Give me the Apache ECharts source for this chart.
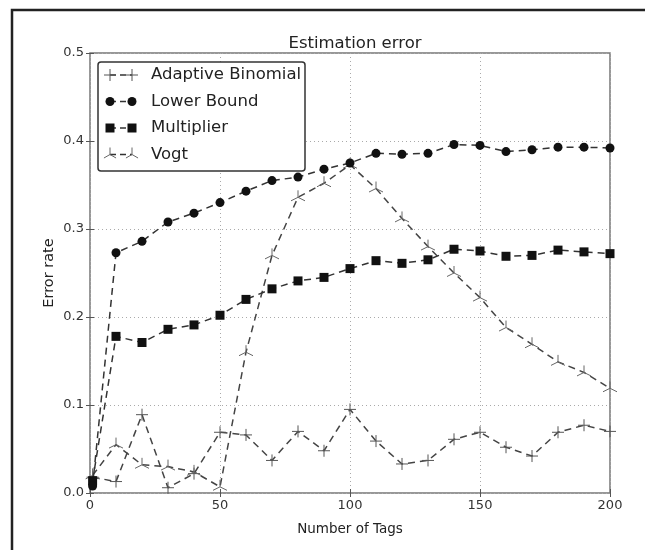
<!DOCTYPE html>
<html>
<head>
<meta charset="utf-8">
<script src="https://cdn.jsdelivr.net/npm/echarts@6/dist/echarts.min.js"></script>
<style>
  html, body { margin: 0; padding: 0; background: #fff; }
  #chart { width: 645px; height: 550px; }
</style>
</head>
<body>
<div id="chart"></div>
<script>
const tags = [1, 10, 20, 30, 40, 50, 60, 70, 80, 90, 100, 110, 120, 130, 140, 150, 160, 170, 180, 190, 200]
const adaptiveBinomial = [0.018, 0.013, 0.089, 0.006, 0.022, 0.069, 0.066, 0.037, 0.070, 0.048, 0.095, 0.059, 0.033, 0.037, 0.061, 0.069, 0.052, 0.042, 0.069, 0.077, 0.070]
const lowerBound = [0.008, 0.273, 0.286, 0.308, 0.318, 0.330, 0.343, 0.355, 0.359, 0.368, 0.375, 0.386, 0.385, 0.386, 0.396, 0.395, 0.388, 0.390, 0.393, 0.393, 0.392]
const multiplier = [0.014, 0.178, 0.171, 0.186, 0.191, 0.202, 0.220, 0.232, 0.241, 0.245, 0.255, 0.264, 0.261, 0.265, 0.277, 0.275, 0.269, 0.270, 0.276, 0.274, 0.272]
const vogt = [0.020, 0.055, 0.032, 0.030, 0.024, 0.007, 0.160, 0.270, 0.336, 0.352, 0.373, 0.346, 0.312, 0.280, 0.250, 0.222, 0.188, 0.169, 0.149, 0.137, 0.119]

// matplotlib style markers: '+' and tri_up
const plusPath = 'path://M0,-1L0,1M-1,0L1,0'
const triPath = 'path://M0,-1L0,0M0,0L-0.866,0.5M0,0L0.866,0.5M0,1L0,1M-0.866,-1L-0.866,-1'
const font = 'DejaVu Sans'
const dash = [7, 5]

const pairs = (ys) => tags.map((x, i) => [x, ys[i]])

const legendItems = [
  { name: 'Adaptive Binomial', kind: 'plus' },
  { name: 'Lower Bound', kind: 'circle' },
  { name: 'Multiplier', kind: 'square' },
  { name: 'Vogt', kind: 'tri' }
]

const seg = (x1, y1, x2, y2, color) => ({
  type: 'line', shape: { x1, y1, x2, y2 }, style: { stroke: color, lineWidth: 1 }, z: 20
})

const legendMarker = (kind, cx, cy) => {
  if (kind === 'circle') {
    return [{ type: 'circle', shape: { cx, cy, r: 4.5 }, style: { fill: '#111' }, z: 20 }]
  }
  if (kind === 'square') {
    return [{ type: 'rect', shape: { x: cx - 4.5, y: cy - 4.5, width: 9, height: 9 }, style: { fill: '#111' }, z: 20 }]
  }
  if (kind === 'plus') {
    return [seg(cx - 6, cy, cx + 6, cy, '#555'), seg(cx, cy - 6, cx, cy + 6, '#555')]
  }
  const r = 7
  return [
    seg(cx, cy, cx, cy - r, '#666'),
    seg(cx, cy, cx - r * 0.866, cy + r * 0.5, '#666'),
    seg(cx, cy, cx + r * 0.866, cy + r * 0.5, '#666')
  ]
}

const legendGraphics = [
  { type: 'rect', shape: { x: 98, y: 62, width: 207, height: 109, r: 3 },
    style: { fill: '#fff', stroke: '#333', lineWidth: 1.5 }, z: 15 }
]
legendItems.forEach((it, i) => {
  const cy = 75 + i * 26.5
  legendGraphics.push({ type: 'line', shape: { x1: 110, y1: cy, x2: 132, y2: cy },
    style: { stroke: '#333', lineWidth: 1.5, lineDash: [6, 4] }, z: 18 })
  legendGraphics.push(...legendMarker(it.kind, 110, cy))
  legendGraphics.push(...legendMarker(it.kind, 132, cy))
  legendGraphics.push({ type: 'text', x: 151, y: cy,
    style: { text: it.name, font: '16.5px "DejaVu Sans"', fill: '#222', verticalAlign: 'middle' }, z: 20 })
})

const chart = echarts.init(document.getElementById('chart'))
chart.setOption({
  animation: false,
  backgroundColor: '#fff',
  title: {
    text: 'Estimation error',
    left: 350, top: 30, textAlign: 'center',
    textStyle: { fontFamily: font, fontSize: 16.5, fontWeight: 'normal', color: '#222' }
  },
  grid: { left: 90, right: 35, top: 53, bottom: 57, show: true, borderColor: '#777', borderWidth: 1.5, backgroundColor: 'transparent' },
  xAxis: [{
    type: 'value', min: 0, max: 200, interval: 50,
    name: 'Number of Tags', nameLocation: 'middle', nameGap: 29,
    nameTextStyle: { fontFamily: font, fontSize: 13.5, color: '#222' },
    axisLine: { show: false },
    axisTick: { show: true, inside: true, length: 4, lineStyle: { color: '#555' } },
    axisLabel: { fontFamily: font, fontSize: 13, color: '#333', margin: 6 },
    splitLine: { show: true, lineStyle: { color: '#aaa', type: [1, 3], width: 1 } }
  }, {
    type: 'value', min: 0, max: 200, interval: 50, position: 'top',
    axisLine: { show: false },
    axisTick: { show: true, inside: true, length: 4, lineStyle: { color: '#555' } },
    axisLabel: { show: false }, splitLine: { show: false }
  }],
  yAxis: [{
    type: 'value', min: 0, max: 0.5, interval: 0.1,
    name: 'Error rate', nameLocation: 'middle', nameGap: 33, nameMoveOverlap: false,
    nameTextStyle: { fontFamily: font, fontSize: 14.5, color: '#222' },
    axisLine: { show: false },
    axisTick: { show: true, inside: true, length: 4, lineStyle: { color: '#555' } },
    axisLabel: { fontFamily: font, fontSize: 13, color: '#333', margin: 6, formatter: (v) => v.toFixed(1) },
    splitLine: { show: true, lineStyle: { color: '#aaa', type: [1, 3], width: 1 } }
  }, {
    type: 'value', min: 0, max: 0.5, interval: 0.1, position: 'right',
    axisLine: { show: false },
    axisTick: { show: true, inside: true, length: 4, lineStyle: { color: '#555' } },
    axisLabel: { show: false }, splitLine: { show: false }
  }],
  series: [
    {
      name: 'Adaptive Binomial', type: 'line', data: pairs(adaptiveBinomial),
      symbol: plusPath, symbolSize: 12, showAllSymbol: true,
      lineStyle: { color: '#444', width: 1.5, type: dash },
      itemStyle: { color: 'rgba(0,0,0,0)', borderColor: '#555', borderWidth: 1 },
      z: 3
    },
    {
      name: 'Vogt', type: 'line', data: pairs(vogt),
      symbol: triPath, symbolSize: 14, showAllSymbol: true,
      lineStyle: { color: '#444', width: 1.5, type: dash },
      itemStyle: { color: 'rgba(0,0,0,0)', borderColor: '#666', borderWidth: 1 },
      z: 3
    },
    {
      name: 'Multiplier', type: 'line', data: pairs(multiplier),
      symbol: 'rect', symbolSize: 9, showAllSymbol: true,
      lineStyle: { color: '#333', width: 1.5, type: dash },
      itemStyle: { color: '#111' },
      z: 4
    },
    {
      name: 'Lower Bound', type: 'line', data: pairs(lowerBound),
      symbol: 'circle', symbolSize: 9, showAllSymbol: true,
      lineStyle: { color: '#333', width: 1.5, type: dash },
      itemStyle: { color: '#111' },
      z: 4
    }
  ],
  graphic: [
    { type: 'rect', shape: { x: 12, y: 10, width: 660, height: 560 },
      style: { fill: 'none', stroke: '#222', lineWidth: 2.5 }, z: 30, silent: true },
    ...legendGraphics
  ]
})
</script>
</body>
</html>
